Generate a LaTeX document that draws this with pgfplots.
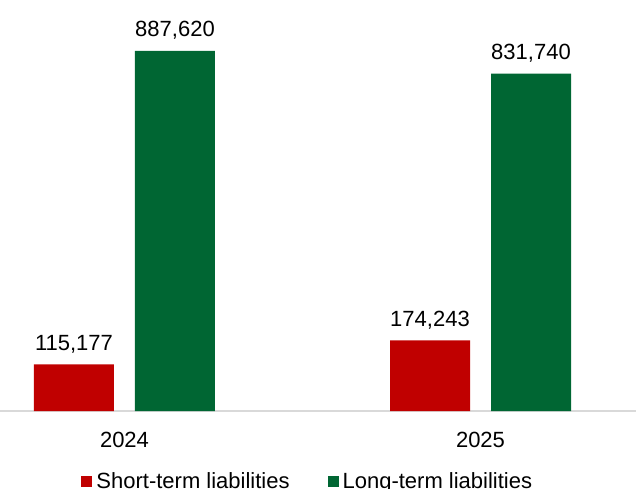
\documentclass[border=0pt]{standalone}
\usepackage{pgfplots}
\pgfplotsset{compat=1.18}
\usepackage{fontspec}
\setmainfont{Liberation Sans}
\definecolor{stred}{HTML}{C00000}
\definecolor{ltgreen}{HTML}{006633}
\definecolor{axgray}{HTML}{D9D9D9}
\begin{document}
\begin{tikzpicture}
\begin{axis}[
  scale only axis,
  width=318pt, height=205.5pt,
  ybar=10.5pt, bar width=40pt,
  xmin=-0.3497, xmax=1.4368,
  ymin=0, ymax=1013360,
  axis x line*=bottom, axis y line=none,
  x axis line style={draw=axgray, line width=0.75pt, -},
  xtick={0,1}, xticklabels={2024,2025},
  major tick length=0pt,
  xticklabel style={anchor=base, yshift=-18pt, font=\fontsize{11}{13}\selectfont},
  /pgf/number format/.cd, fixed, precision=0, 1000 sep={,}, assume math mode=true,
  /pgfplots/.cd,
  nodes near coords,
  every node near coord/.append style={anchor=base, yshift=7pt, font=\fontsize{11}{13}\selectfont, text=black},
  legend columns=2,
  legend style={draw=none, fill=none, at={(axis description cs:0.4855,-0.1727)}, anchor=center,
    font=\fontsize{11}{13}\selectfont, /tikz/every even column/.append style={column sep=17pt},
    inner sep=0pt},
  legend image code/.code={\fill[#1] (0pt,-2.75pt) rectangle (5.5pt,2.75pt);},
]
\addplot[fill=stred, draw=none] coordinates {(0,115177) (1,174243)};
\addplot[fill=ltgreen, draw=none] coordinates {(0,887620) (1,831740)};
\legend{Short-term liabilities, Long-term liabilities}
\end{axis}
\pgfresetboundingbox
\path[use as bounding box] ([yshift=-38.5pt]current axis.south west) rectangle (current axis.north east);
\end{tikzpicture}
\end{document}
